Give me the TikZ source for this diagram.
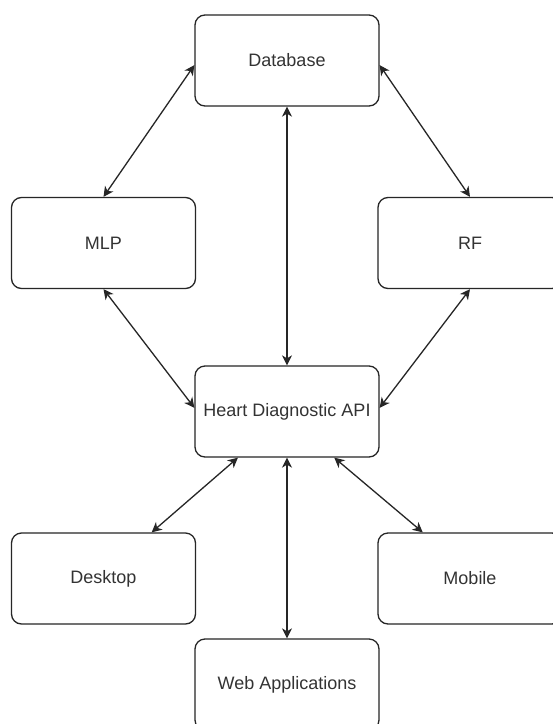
\documentclass[tikz,border=0pt]{standalone}
\usepackage{fontspec}
\setmainfont{Liberation Sans}
\usetikzlibrary{arrows.meta,calc}
\definecolor{txt}{RGB}{51,51,51}
\tikzset{
  box/.style={draw=black!85, line width=1.3pt, rounded corners=10pt, minimum width=184pt, minimum height=91pt, inner sep=0pt, font=\fontsize{18pt}{21pt}\selectfont, text=txt, fill=white},
  link/.style={draw=black!85, line width=1.3pt, {Stealth[length=10pt,width=10pt,inset=3pt]}-{Stealth[length=10pt,width=10pt,inset=3pt]}}
}
\begin{document}
\begin{tikzpicture}[x=1pt,y=-1pt]
\clip (0,0) rectangle (553,724);
\fill[white] (0,0) rectangle (553,724);
\node[box] (db)   at (287,60.5)  {Database};
\node[box] (mlp)  at (103.5,243) {MLP};
\node[box] (rf)   at (470,243)   {RF};
\node[box] (api)  at (287,411.5) {Heart Diagnostic API};
\node[box] (desk) at (103.5,578.5) {Desktop};
\node[box] (mob)  at (470,578.5) {Mobile};
\node[box] (web)  at (287,684.5) {Web Applications};
\draw[link] (mlp.north) -- ($(db.north west)!0.55!(db.south west)$);
\draw[link] (rf.north) -- ($(db.north east)!0.55!(db.south east)$);
\draw[link] (db.south) -- (api.north);
\draw[link] (mlp.south) -- ($(api.north west)!0.46!(api.south west)$);
\draw[link] (rf.south) -- ($(api.north east)!0.46!(api.south east)$);
\draw[link] ($(api.south west)!0.235!(api.south east)$) -- ($(desk.north west)!0.76!(desk.north east)$);
\draw[link] ($(api.south west)!0.755!(api.south east)$) -- ($(mob.north west)!0.245!(mob.north east)$);
\draw[link] (api.south) -- (web.north);
\end{tikzpicture}
\end{document}
